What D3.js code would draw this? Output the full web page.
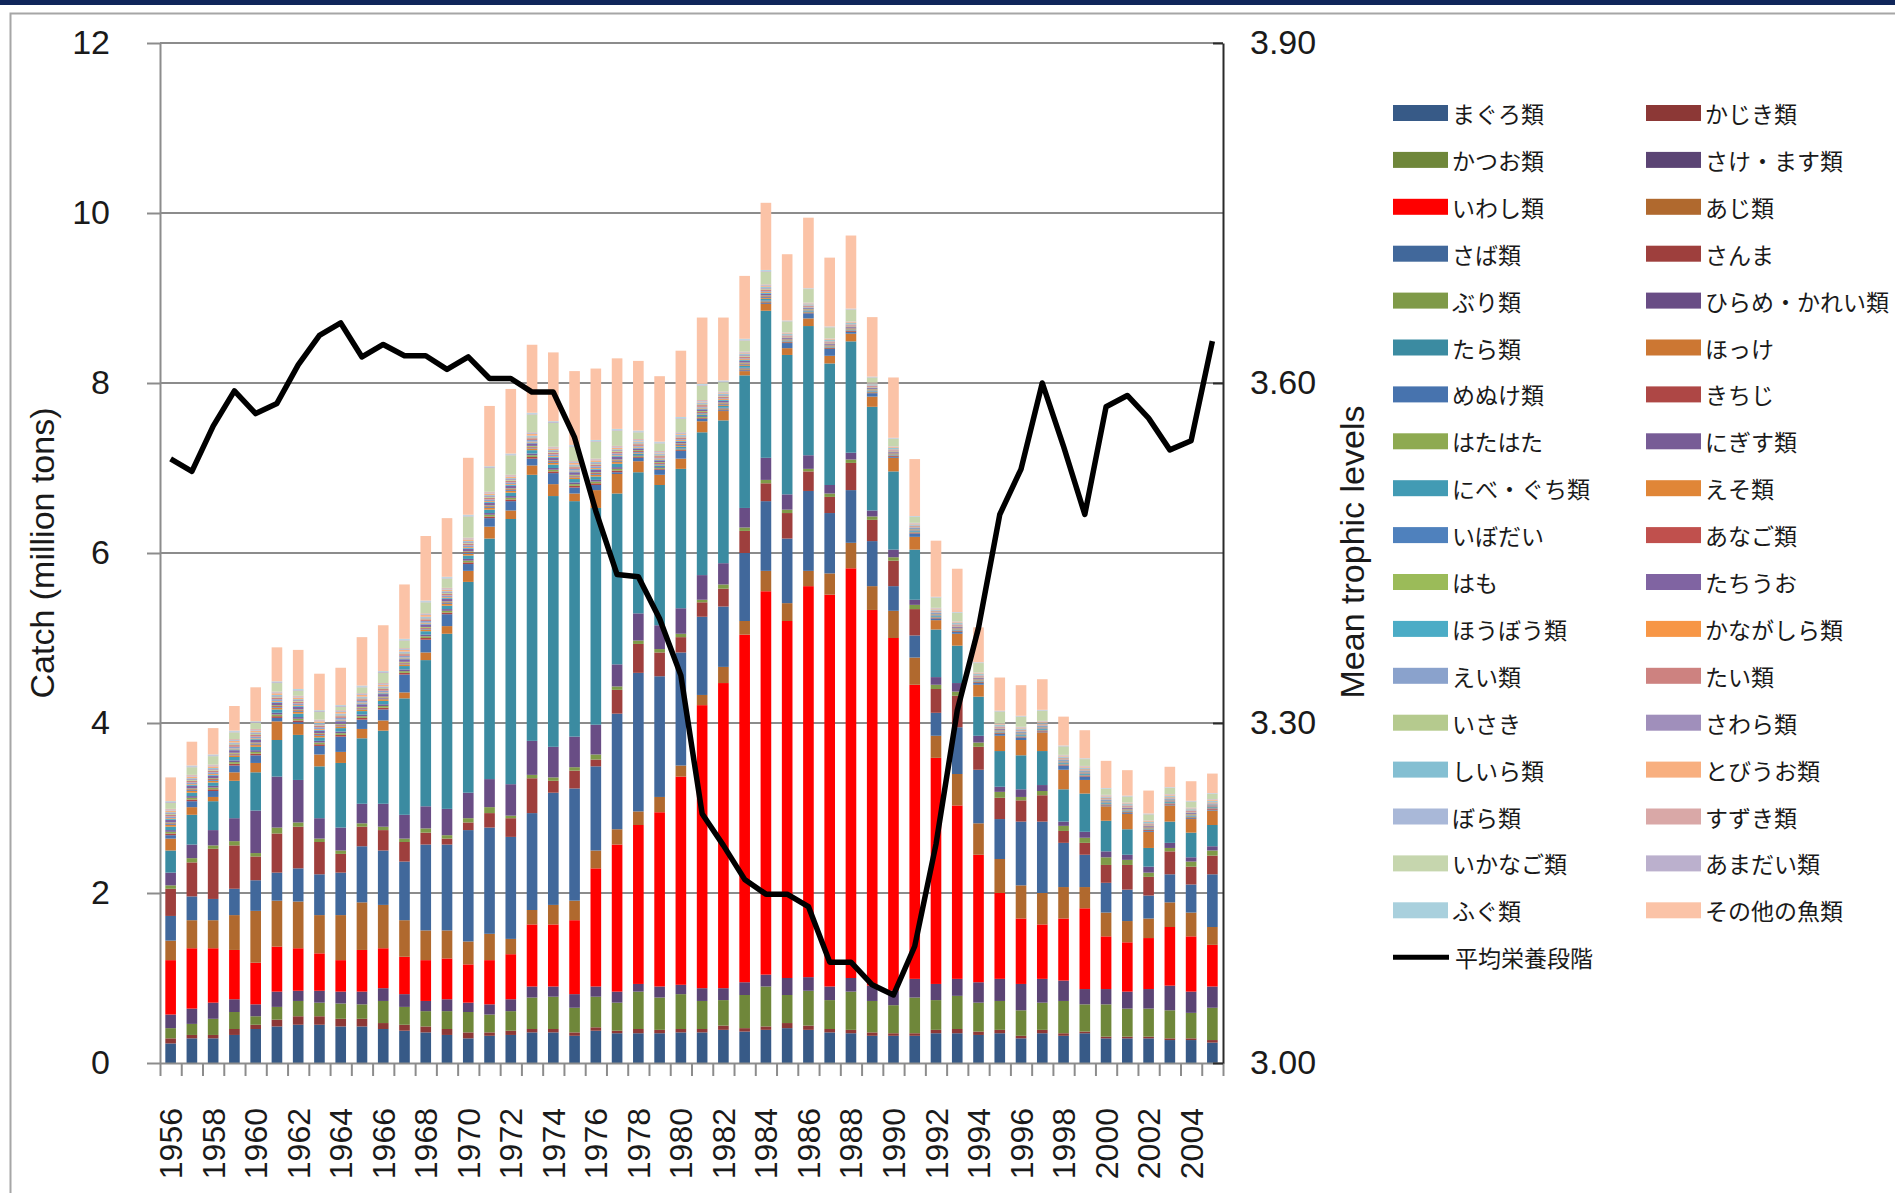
<!DOCTYPE html>
<html>
<head>
<meta charset="utf-8">
<script src="https://cdn.jsdelivr.net/npm/d3@7/dist/d3.min.js"></script>
<style>
  body { margin: 0; background: #fff; }
  text { font-family: 'Liberation Sans', Arial, sans-serif; fill: #1a1a1a; }
  .legend text { font-family: 'Noto Sans CJK JP', sans-serif; }
</style>
</head>
<body>
<div id="wrapper"></div>
<script>
// catch by species, million tons, 1956-2005
const years = [
  1956, 1957, 1958, 1959, 1960, 1961, 1962, 1963, 1964, 1965,
  1966, 1967, 1968, 1969, 1970, 1971, 1972, 1973, 1974, 1975,
  1976, 1977, 1978, 1979, 1980, 1981, 1982, 1983, 1984, 1985,
  1986, 1987, 1988, 1989, 1990, 1991, 1992, 1993, 1994, 1995,
  1996, 1997, 1998, 1999, 2000, 2001, 2002, 2003, 2004, 2005,
]
const labelYears = [1956, 1958, 1960, 1962, 1964, 1966, 1968, 1970, 1972, 1974,
  1976, 1978, 1980, 1982, 1984, 1986, 1988, 1990, 1992, 1994, 1996, 1998, 2000, 2002, 2004]
const catchTicks = [0, 2, 4, 6, 8, 10, 12]
const trophicTicks = [3.0, 3.3, 3.6, 3.9]

const maguro = [0.23,0.29,0.29,0.33,0.40,0.43,0.45,0.45,0.43,0.43,
  0.40,0.38,0.36,0.33,0.29,0.32,0.33,0.36,0.36,0.32,
  0.38,0.35,0.35,0.35,0.36,0.36,0.39,0.37,0.39,0.41,
  0.39,0.36,0.35,0.32,0.32,0.32,0.35,0.35,0.33,0.35,
  0.29,0.35,0.32,0.35,0.29,0.29,0.29,0.27,0.27,0.24]
const kajiki = [0.06,0.04,0.04,0.07,0.05,0.08,0.10,0.10,0.09,0.09,
  0.07,0.07,0.07,0.07,0.07,0.04,0.05,0.04,0.04,0.04,
  0.04,0.03,0.05,0.04,0.04,0.04,0.05,0.04,0.04,0.06,
  0.05,0.04,0.04,0.04,0.03,0.03,0.04,0.05,0.04,0.04,
  0.03,0.04,0.03,0.02,0.02,0.02,0.02,0.02,0.02,0.03]
const katsuo = [0.12,0.13,0.19,0.20,0.10,0.15,0.18,0.16,0.18,0.17,
  0.26,0.21,0.18,0.21,0.24,0.21,0.23,0.37,0.38,0.29,
  0.36,0.33,0.44,0.38,0.41,0.33,0.30,0.39,0.47,0.33,
  0.41,0.34,0.45,0.37,0.33,0.42,0.35,0.39,0.34,0.34,
  0.30,0.32,0.38,0.32,0.38,0.33,0.33,0.33,0.30,0.38]
const sakeMasu = [0.16,0.18,0.19,0.15,0.14,0.18,0.12,0.14,0.14,0.15,
  0.15,0.15,0.12,0.14,0.11,0.12,0.14,0.13,0.12,0.16,
  0.12,0.13,0.09,0.13,0.11,0.15,0.14,0.15,0.14,0.20,
  0.16,0.16,0.16,0.18,0.17,0.22,0.19,0.20,0.24,0.26,
  0.31,0.28,0.24,0.18,0.18,0.20,0.23,0.29,0.25,0.25]
const iwashi = [0.64,0.71,0.64,0.58,0.49,0.53,0.50,0.44,0.37,0.49,
  0.47,0.44,0.48,0.48,0.45,0.52,0.53,0.73,0.73,0.87,
  1.39,1.73,1.87,2.05,2.45,3.33,3.59,4.09,4.51,4.20,
  4.60,4.61,4.82,4.42,4.15,3.46,2.66,2.04,1.50,1.01,
  0.77,0.64,0.73,0.95,0.62,0.58,0.60,0.69,0.65,0.49]
const aji = [0.23,0.33,0.33,0.41,0.61,0.54,0.55,0.45,0.53,0.56,
  0.51,0.43,0.35,0.33,0.27,0.31,0.18,0.17,0.23,0.23,
  0.21,0.18,0.16,0.18,0.13,0.12,0.19,0.16,0.24,0.21,
  0.18,0.25,0.30,0.28,0.32,0.32,0.26,0.37,0.37,0.40,
  0.39,0.37,0.37,0.25,0.28,0.25,0.23,0.29,0.28,0.21]
const saba = [0.29,0.28,0.25,0.31,0.36,0.33,0.39,0.48,0.50,0.66,
  0.64,0.69,1.01,1.01,1.31,1.25,1.20,1.14,1.32,1.32,
  0.99,1.36,1.63,1.42,1.33,0.92,0.71,0.80,0.82,0.76,
  0.94,0.71,0.62,0.53,0.29,0.26,0.27,0.55,0.63,0.47,
  0.75,0.84,0.52,0.38,0.35,0.37,0.27,0.33,0.33,0.62]
const sanma = [0.32,0.40,0.59,0.51,0.28,0.46,0.49,0.38,0.22,0.23,
  0.24,0.23,0.14,0.07,0.09,0.17,0.22,0.41,0.14,0.21,
  0.08,0.28,0.34,0.28,0.18,0.17,0.21,0.26,0.21,0.30,
  0.23,0.19,0.32,0.25,0.30,0.31,0.28,0.37,0.27,0.25,
  0.25,0.31,0.14,0.14,0.21,0.29,0.22,0.27,0.21,0.22]
const buri = [0.04,0.05,0.04,0.05,0.04,0.07,0.05,0.04,0.04,0.04,
  0.04,0.04,0.05,0.04,0.05,0.07,0.03,0.04,0.04,0.04,
  0.06,0.04,0.04,0.04,0.04,0.03,0.05,0.04,0.04,0.04,
  0.03,0.04,0.04,0.04,0.04,0.05,0.05,0.05,0.05,0.07,
  0.04,0.05,0.06,0.06,0.09,0.06,0.05,0.04,0.06,0.06]
const hirameKarei = [0.15,0.16,0.18,0.27,0.50,0.60,0.50,0.24,0.27,0.23,
  0.27,0.28,0.26,0.31,0.30,0.33,0.37,0.40,0.36,0.36,
  0.35,0.26,0.32,0.28,0.30,0.29,0.25,0.23,0.26,0.18,
  0.16,0.10,0.08,0.07,0.09,0.06,0.09,0.10,0.08,0.06,
  0.09,0.07,0.05,0.07,0.07,0.06,0.07,0.06,0.05,0.05]
const tara = [0.26,0.35,0.34,0.44,0.45,0.43,0.53,0.61,0.76,0.77,
  0.86,1.37,1.72,2.06,2.48,2.83,3.12,3.13,2.95,2.77,
  2.55,2.01,1.66,1.65,1.64,1.68,1.68,1.56,1.73,1.64,
  1.52,1.43,1.31,1.22,0.92,0.59,0.56,0.44,0.46,0.42,
  0.40,0.40,0.38,0.45,0.36,0.30,0.22,0.25,0.29,0.25]
const hokke = [0.14,0.09,0.05,0.10,0.11,0.22,0.13,0.14,0.13,0.11,
  0.12,0.07,0.09,0.09,0.13,0.14,0.10,0.11,0.14,0.09,
  0.21,0.23,0.13,0.12,0.12,0.13,0.11,0.05,0.08,0.08,
  0.09,0.09,0.09,0.12,0.16,0.15,0.11,0.14,0.14,0.18,
  0.18,0.22,0.23,0.16,0.17,0.18,0.19,0.19,0.16,0.17]
const menuke = [0.04,0.07,0.07,0.08,0.09,0.04,0.02,0.10,0.18,0.11,
  0.13,0.21,0.15,0.14,0.08,0.10,0.11,0.08,0.13,0.07,
  0.06,0.02,0.04,0.06,0.09,0.03,0.01,0.01,0.01,0.06,
  0.06,0.08,0.02,0.04,0.01,0.04,0.02,0.02,0.02,0.02,
  0.03,0.01,0.05,0.04,0.01,0.01,0.01,0.01,0.01,0.01]
const kichiji = [0.02,0.02,0.02,0.02,0.02,0.02,0.02,0.02,0.02,0.02,
  0.02,0.02,0.02,0.02,0.02,0.02,0.02,0.02,0.02,0.02,
  0.02,0.02,0.01,0.01,0.01,0.01,0.01,0.01,0.01,0.01,
  0.01,0.01,0.01,0.01,0.01,0.01,0.01,0.01,0.01,0.01,
  0.01,0.01,0.01,0.01,0.01,0.01,0.01,0.01,0.01,0.01]
const hatahata = [0.02,0.02,0.02,0.02,0.02,0.02,0.02,0.02,0.02,0.02,
  0.02,0.02,0.02,0.02,0.02,0.02,0.02,0.02,0.02,0.02,
  0.02,0.02,0.01,0.01,0.01,0.01,0.01,0.01,0.01,0.005,
  0.005,0.005,0.005,0.005,0.005,0.005,0.005,0.005,0.005,0.005,
  0.005,0.005,0.005,0.005,0.005,0.005,0.005,0.005,0.005,0.005]
const nigisu = [0.02,0.02,0.02,0.02,0.02,0.02,0.02,0.02,0.02,0.02,
  0.02,0.02,0.02,0.02,0.02,0.02,0.02,0.02,0.02,0.02,
  0.02,0.02,0.01,0.01,0.01,0.01,0.01,0.01,0.01,0.005,
  0.005,0.005,0.005,0.005,0.005,0.005,0.005,0.005,0.005,0.005,
  0.005,0.005,0.005,0.005,0.005,0.005,0.005,0.005,0.005,0.005]
const nibeGuchi = [0.04,0.04,0.04,0.04,0.04,0.04,0.04,0.04,0.04,0.04,
  0.04,0.04,0.04,0.04,0.04,0.04,0.04,0.04,0.04,0.04,
  0.04,0.04,0.02,0.02,0.02,0.02,0.02,0.02,0.02,0.01,
  0.01,0.01,0.01,0.01,0.01,0.01,0.01,0.01,0.01,0.01,
  0.01,0.01,0.01,0.01,0.01,0.01,0.01,0.01,0.01,0.01]
const eso = [0.02,0.02,0.02,0.02,0.02,0.02,0.02,0.02,0.02,0.02,
  0.02,0.02,0.02,0.02,0.02,0.02,0.02,0.02,0.02,0.02,
  0.02,0.02,0.01,0.01,0.01,0.01,0.01,0.01,0.01,0.005,
  0.005,0.005,0.005,0.005,0.005,0.005,0.005,0.005,0.005,0.005,
  0.005,0.005,0.005,0.005,0.005,0.005,0.005,0.005,0.005,0.005]
const ibodai = [0.01,0.01,0.01,0.01,0.01,0.01,0.01,0.01,0.01,0.01,
  0.01,0.01,0.01,0.01,0.01,0.01,0.01,0.01,0.01,0.01,
  0.01,0.01,0.01,0.01,0.01,0.01,0.01,0.01,0.01,0.005,
  0.005,0.005,0.005,0.005,0.005,0.005,0.005,0.005,0.005,0.005,
  0.005,0.005,0.005,0.005,0.005,0.005,0.005,0.005,0.005,0.005]
const anago = [0.01,0.01,0.01,0.01,0.01,0.01,0.01,0.01,0.01,0.01,
  0.01,0.01,0.01,0.01,0.01,0.01,0.01,0.01,0.01,0.01,
  0.01,0.01,0.01,0.01,0.01,0.01,0.01,0.01,0.01,0.005,
  0.005,0.005,0.005,0.005,0.005,0.005,0.005,0.005,0.005,0.005,
  0.005,0.005,0.005,0.005,0.005,0.005,0.005,0.005,0.005,0.005]
const hamo = [0.01,0.01,0.01,0.01,0.01,0.01,0.01,0.01,0.01,0.01,
  0.01,0.01,0.01,0.01,0.01,0.01,0.01,0.01,0.01,0.01,
  0.01,0.01,0.01,0.01,0.01,0.01,0.01,0.01,0.01,0.005,
  0.005,0.005,0.005,0.005,0.005,0.005,0.005,0.005,0.005,0.005,
  0.005,0.005,0.005,0.005,0.005,0.005,0.005,0.005,0.005,0.005]
const tachiuo = [0.03,0.03,0.03,0.03,0.03,0.03,0.03,0.03,0.03,0.03,
  0.03,0.03,0.03,0.03,0.03,0.03,0.03,0.03,0.03,0.03,
  0.03,0.03,0.02,0.02,0.02,0.02,0.02,0.02,0.02,0.01,
  0.01,0.01,0.01,0.01,0.01,0.01,0.01,0.01,0.01,0.01,
  0.01,0.01,0.01,0.01,0.01,0.01,0.01,0.01,0.01,0.01]
const houbou = [0.01,0.01,0.01,0.01,0.01,0.01,0.01,0.01,0.01,0.01,
  0.01,0.01,0.01,0.01,0.01,0.01,0.01,0.01,0.01,0.01,
  0.01,0.01,0.01,0.01,0.01,0.01,0.01,0.01,0.01,0.005,
  0.005,0.005,0.005,0.005,0.005,0.005,0.005,0.005,0.005,0.005,
  0.005,0.005,0.005,0.005,0.005,0.005,0.005,0.005,0.005,0.005]
const kanagashira = [0.01,0.01,0.01,0.01,0.01,0.01,0.01,0.01,0.01,0.01,
  0.01,0.01,0.01,0.01,0.01,0.01,0.01,0.01,0.01,0.01,
  0.01,0.01,0.01,0.01,0.01,0.01,0.01,0.01,0.01,0.005,
  0.005,0.005,0.005,0.005,0.005,0.005,0.005,0.005,0.005,0.005,
  0.005,0.005,0.005,0.005,0.005,0.005,0.005,0.005,0.005,0.005]
const ei = [0.02,0.02,0.02,0.02,0.02,0.02,0.02,0.02,0.02,0.02,
  0.02,0.02,0.02,0.02,0.02,0.02,0.02,0.02,0.02,0.02,
  0.02,0.02,0.01,0.01,0.01,0.01,0.01,0.01,0.01,0.005,
  0.005,0.005,0.005,0.005,0.005,0.005,0.005,0.005,0.005,0.005,
  0.005,0.005,0.005,0.005,0.005,0.005,0.005,0.005,0.005,0.005]
const tai = [0.02,0.02,0.02,0.02,0.02,0.02,0.02,0.02,0.02,0.02,
  0.02,0.02,0.02,0.02,0.02,0.02,0.02,0.02,0.02,0.02,
  0.02,0.02,0.02,0.02,0.02,0.02,0.02,0.02,0.02,0.01,
  0.01,0.01,0.01,0.01,0.01,0.01,0.01,0.01,0.01,0.01,
  0.01,0.01,0.01,0.01,0.01,0.01,0.01,0.01,0.01,0.01]
const isaki = [0.01,0.01,0.01,0.01,0.01,0.01,0.01,0.01,0.01,0.01,
  0.01,0.01,0.01,0.01,0.01,0.01,0.01,0.01,0.01,0.01,
  0.01,0.01,0.01,0.01,0.01,0.01,0.01,0.01,0.01,0.005,
  0.005,0.005,0.005,0.005,0.005,0.005,0.005,0.005,0.005,0.005,
  0.005,0.005,0.005,0.005,0.005,0.005,0.005,0.005,0.005,0.005]
const sawara = [0.01,0.01,0.01,0.01,0.01,0.01,0.01,0.01,0.01,0.01,
  0.01,0.01,0.01,0.01,0.01,0.01,0.01,0.01,0.01,0.01,
  0.01,0.01,0.01,0.01,0.01,0.01,0.01,0.01,0.01,0.005,
  0.005,0.005,0.005,0.005,0.005,0.005,0.005,0.005,0.005,0.005,
  0.005,0.005,0.005,0.005,0.005,0.005,0.005,0.005,0.005,0.005]
const shiira = [0.01,0.01,0.01,0.01,0.01,0.01,0.01,0.01,0.01,0.01,
  0.01,0.01,0.01,0.01,0.01,0.01,0.01,0.01,0.01,0.01,
  0.01,0.01,0.01,0.01,0.01,0.01,0.01,0.01,0.01,0.01,
  0.01,0.01,0.01,0.01,0.01,0.01,0.01,0.01,0.01,0.01,
  0.01,0.01,0.01,0.01,0.01,0.01,0.01,0.01,0.01,0.01]
const tobiuo = [0.02,0.02,0.02,0.02,0.02,0.02,0.02,0.02,0.02,0.02,
  0.02,0.02,0.02,0.02,0.02,0.02,0.02,0.02,0.02,0.02,
  0.02,0.02,0.01,0.01,0.01,0.01,0.01,0.01,0.01,0.01,
  0.01,0.01,0.01,0.01,0.01,0.01,0.01,0.01,0.01,0.01,
  0.01,0.01,0.01,0.01,0.01,0.01,0.01,0.01,0.01,0.01]
const bora = [0.01,0.01,0.01,0.01,0.01,0.01,0.01,0.01,0.01,0.01,
  0.01,0.01,0.01,0.01,0.01,0.01,0.01,0.01,0.01,0.01,
  0.01,0.01,0.01,0.01,0.01,0.01,0.01,0.01,0.01,0.005,
  0.005,0.005,0.005,0.005,0.005,0.005,0.005,0.005,0.005,0.005,
  0.005,0.005,0.005,0.005,0.005,0.005,0.005,0.005,0.005,0.005]
const suzuki = [0.01,0.01,0.01,0.01,0.01,0.01,0.01,0.01,0.01,0.01,
  0.01,0.01,0.01,0.01,0.01,0.01,0.01,0.01,0.01,0.01,
  0.01,0.01,0.01,0.01,0.01,0.01,0.01,0.01,0.01,0.005,
  0.005,0.005,0.005,0.005,0.005,0.005,0.005,0.005,0.005,0.005,
  0.005,0.005,0.005,0.005,0.005,0.005,0.005,0.005,0.005,0.005]
const ikanago = [0.07,0.09,0.10,0.08,0.07,0.10,0.06,0.09,0.04,0.07,
  0.12,0.09,0.13,0.11,0.25,0.28,0.23,0.21,0.28,0.17,
  0.20,0.18,0.08,0.09,0.16,0.17,0.11,0.13,0.15,0.13,
  0.16,0.13,0.14,0.06,0.09,0.07,0.12,0.10,0.11,0.14,
  0.12,0.12,0.10,0.08,0.07,0.07,0.07,0.07,0.07,0.06]
const amadai = [0.01,0.01,0.01,0.01,0.01,0.01,0.01,0.01,0.01,0.01,
  0.01,0.01,0.01,0.01,0.01,0.01,0.01,0.01,0.01,0.01,
  0.01,0.01,0.01,0.01,0.01,0.01,0.01,0.01,0.01,0.005,
  0.005,0.005,0.005,0.005,0.005,0.005,0.005,0.005,0.005,0.005,
  0.005,0.005,0.005,0.005,0.005,0.005,0.005,0.005,0.005,0.005]
const fugu = [0.01,0.01,0.01,0.01,0.01,0.01,0.01,0.01,0.01,0.01,
  0.01,0.01,0.01,0.01,0.01,0.01,0.01,0.01,0.01,0.01,
  0.01,0.01,0.01,0.01,0.01,0.01,0.01,0.01,0.01,0.005,
  0.005,0.005,0.005,0.005,0.005,0.005,0.005,0.005,0.005,0.005,
  0.005,0.005,0.005,0.005,0.005,0.005,0.005,0.005,0.005,0.005]
const sonota = [0.28,0.28,0.31,0.29,0.40,0.40,0.46,0.43,0.44,0.57,
  0.54,0.64,0.76,0.69,0.67,0.71,0.76,0.80,0.81,0.87,
  0.84,0.83,0.82,0.77,0.78,0.78,0.74,0.74,0.79,0.78,
  0.83,0.81,0.86,0.70,0.71,0.67,0.66,0.51,0.41,0.39,
  0.36,0.36,0.34,0.33,0.32,0.30,0.27,0.24,0.23,0.23]

// mean trophic level (right axis)
const trophicLevel = [3.533,3.522,3.562,3.593,3.573,3.582,3.616,3.642,3.653,3.623,
  3.634,3.624,3.624,3.612,3.623,3.604,3.604,3.592,3.592,3.552,
  3.487,3.431,3.429,3.392,3.342,3.220,3.192,3.162,3.149,3.149,
  3.138,3.089,3.089,3.069,3.060,3.103,3.193,3.311,3.384,3.484,
  3.524,3.600,3.544,3.484,3.579,3.589,3.569,3.541,3.549,3.637]

const seriesNames = ['まぐろ類', 'かじき類', 'かつお類', 'さけ・ます類', 'いわし類', 'あじ類',
  'さば類', 'さんま', 'ぶり類', 'ひらめ・かれい類', 'たら類', 'ほっけ', 'めぬけ類', 'きちじ',
  'はたはた', 'にぎす類', 'にべ・ぐち類', 'えそ類', 'いぼだい', 'あなご類', 'はも', 'たちうお',
  'ほうぼう類', 'かながしら類', 'えい類', 'たい類', 'いさき', 'さわら類', 'しいら類', 'とびうお類',
  'ぼら類', 'すずき類', 'いかなご類', 'あまだい類', 'ふぐ類', 'その他の魚類']
const seriesValues = [maguro, kajiki, katsuo, sakeMasu, iwashi, aji, saba, sanma, buri,
  hirameKarei, tara, hokke, menuke, kichiji, hatahata, nigisu, nibeGuchi, eso, ibodai, anago,
  hamo, tachiuo, houbou, kanagashira, ei, tai, isaki, sawara, shiira, tobiuo, bora, suzuki,
  ikanago, amadai, fugu, sonota]
const lineName = '平均栄養段階'

// excel-like palette
const seriesColors = ['#375a87', '#8c3836', '#6f873a', '#5b4474', '#ff0000', '#b0692e',
  '#41689b', '#9e3f3d', '#7f9a48', '#694d85', '#3b8ba1', '#cc7733', '#4773ae', '#ae4745',
  '#8eaa51', '#775c96', '#429bb4', '#e08637', '#4f81bd', '#c0504d', '#9bbb59', '#8064a2',
  '#4bacc6', '#f79646', '#8aa2cc', '#cd8280', '#b5ca8e', '#a08fbb', '#84bfd2', '#f8af7f',
  '#a9b8d8', '#d9a8a7', '#c6d6ae', '#bbb0cd', '#a9d0dd', '#fbc3a7']

function draw() {
  const dimensions = {
    width: 1895,
    height: 1193,
    margin: { top: 43, right: 672, bottom: 130, left: 160 },
  }
  dimensions.boundedWidth = dimensions.width - dimensions.margin.left - dimensions.margin.right
  dimensions.boundedHeight = dimensions.height - dimensions.margin.top - dimensions.margin.bottom

  const wrapper = d3.select('#wrapper')
    .append('svg')
    .attr('width', dimensions.width)
    .attr('height', dimensions.height)

  // frame
  wrapper.append('rect').attr('x', 0).attr('y', 0).attr('width', dimensions.width).attr('height', 5)
    .attr('fill', '#10265a')
  wrapper.append('rect').attr('x', 10.5).attr('y', 13.5).attr('width', 2000).attr('height', 2000)
    .attr('fill', 'none').attr('stroke', '#a6a6a6').attr('stroke-width', 2)

  const bounds = wrapper.append('g')
    .attr('transform', `translate(${dimensions.margin.left}, ${dimensions.margin.top})`)

  // scales
  const xScale = d3.scaleBand()
    .domain(years)
    .range([0, dimensions.boundedWidth])
    .paddingInner(0.5)
    .paddingOuter(0.25)
  const yScale = d3.scaleLinear().domain([0, 12]).range([dimensions.boundedHeight, 0])
  const y2Scale = d3.scaleLinear().domain([3.0, 3.9]).range([dimensions.boundedHeight, 0])
  const slotScale = d3.scaleLinear().domain([0, years.length]).range([0, dimensions.boundedWidth])

  // gridlines
  bounds.append('g')
    .selectAll('line')
    .data(catchTicks.slice(1))
    .join('line')
    .attr('x1', 0)
    .attr('x2', dimensions.boundedWidth)
    .attr('y1', (d) => yScale(d))
    .attr('y2', (d) => yScale(d))
    .attr('stroke', '#8c8c8c')
    .attr('stroke-width', 2)

  // stacked bars
  const table = years.map((yr, i) => {
    const row = { year: yr }
    seriesNames.forEach((n, k) => { row[n] = seriesValues[k][i] })
    return row
  })
  const stacked = d3.stack().keys(seriesNames)(table)

  bounds.append('g')
    .selectAll('g')
    .data(stacked)
    .join('g')
    .attr('fill', (d, k) => seriesColors[k])
    .selectAll('rect')
    .data((d) => d)
    .join('rect')
    .attr('x', (d) => xScale(d.data.year))
    .attr('width', xScale.bandwidth())
    .attr('y', (d) => yScale(d[1]))
    .attr('height', (d) => Math.max(0, yScale(d[0]) - yScale(d[1])))

  // left axis
  const yAxisGenerator = d3.axisLeft(yScale)
    .tickValues(catchTicks)
    .tickSize(13)
    .tickSizeOuter(0)
    .tickPadding(37)
  const yAxis = bounds.append('g').call(yAxisGenerator)
  yAxis.selectAll('path, line').attr('stroke', '#8c8c8c').attr('stroke-width', 2)
  yAxis.selectAll('text').style('font-size', '34px').attr('fill', '#1a1a1a')

  // bottom axis: tick marks between categories
  const xTickGenerator = d3.axisBottom(slotScale)
    .tickValues(d3.range(years.length + 1))
    .tickSize(13)
    .tickSizeOuter(0)
    .tickFormat('')
  const xTicks = bounds.append('g')
    .attr('transform', `translate(0, ${dimensions.boundedHeight})`)
    .call(xTickGenerator)
  xTicks.selectAll('path, line').attr('stroke', '#8c8c8c').attr('stroke-width', 2)

  const xAxisGenerator = d3.axisBottom(xScale).tickValues(labelYears).tickSize(0)
  const xAxis = bounds.append('g')
    .attr('transform', `translate(0, ${dimensions.boundedHeight})`)
    .call(xAxisGenerator)
  xAxis.select('.domain').remove()
  xAxis.selectAll('text')
    .attr('transform', 'rotate(-90)')
    .attr('x', -45)
    .attr('y', 0)
    .attr('dy', '0.36em')
    .style('text-anchor', 'end')
    .style('font-size', '32px')
    .attr('fill', '#1a1a1a')

  // right axis
  const y2AxisGenerator = d3.axisRight(y2Scale)
    .tickValues(trophicTicks)
    .tickSizeInner(-10)
    .tickSizeOuter(0)
    .tickPadding(27)
    .tickFormat(d3.format('.2f'))
  const y2Axis = bounds.append('g')
    .attr('transform', `translate(${dimensions.boundedWidth}, 0)`)
    .call(y2AxisGenerator)
  y2Axis.selectAll('path, line').attr('stroke', '#2a2a2a').attr('stroke-width', 2)
  y2Axis.selectAll('text').style('font-size', '34px').attr('fill', '#1a1a1a')

  // trophic level line
  const lineGenerator = d3.line()
    .x((d, i) => xScale(years[i]) + xScale.bandwidth() / 2)
    .y((d) => y2Scale(d))
  bounds.append('path')
    .datum(trophicLevel)
    .attr('d', lineGenerator)
    .attr('fill', 'none')
    .attr('stroke', '#000')
    .attr('stroke-width', 5.5)
    .attr('stroke-linejoin', 'round')

  // axis titles
  wrapper.append('text')
    .attr('transform', `translate(42, ${dimensions.margin.top + dimensions.boundedHeight / 2}) rotate(-90)`)
    .attr('text-anchor', 'middle')
    .attr('dominant-baseline', 'central')
    .style('font-size', '34px')
    .text('Catch (million tons)')
  wrapper.append('text')
    .attr('transform', `translate(1352, 552) rotate(-90)`)
    .attr('text-anchor', 'middle')
    .attr('dominant-baseline', 'central')
    .style('font-size', '34px')
    .text('Mean trophic levels')

  // legend
  const legend = wrapper.append('g').attr('class', 'legend')
  const legendX = [1393, 1646]
  const legendY = (row) => 113 + row * 46.9
  const items = legend.selectAll('g')
    .data(seriesNames)
    .join('g')
    .attr('transform', (d, k) => `translate(${legendX[k % 2]}, ${legendY(Math.floor(k / 2))})`)
  items.append('rect')
    .attr('x', 0)
    .attr('y', -8)
    .attr('width', 55)
    .attr('height', 16)
    .attr('fill', (d, k) => seriesColors[k])
  items.append('text')
    .attr('x', 59)
    .attr('y', 0)
    .attr('dominant-baseline', 'central')
    .style('font-size', '23px')
    .text((d) => d)

  const lineItem = legend.append('g')
    .attr('transform', `translate(${legendX[0]}, ${legendY(18)})`)
  lineItem.append('line')
    .attr('x1', 0).attr('x2', 56).attr('y1', 0).attr('y2', 0)
    .attr('stroke', '#000').attr('stroke-width', 5)
  lineItem.append('text')
    .attr('x', 62)
    .attr('y', 0)
    .attr('dominant-baseline', 'central')
    .style('font-size', '23px')
    .text(lineName)
}
draw()
</script>
</body>
</html>
